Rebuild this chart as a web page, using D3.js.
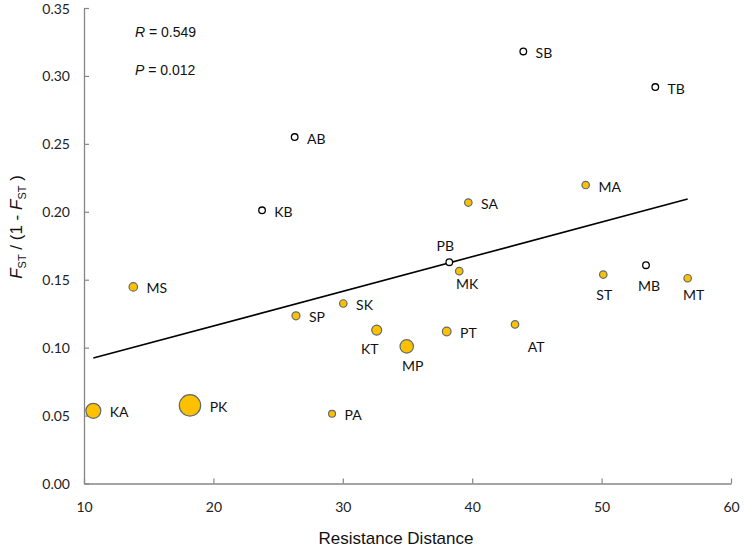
<!DOCTYPE html>
<html><head><meta charset="utf-8">
<script src="https://cdn.jsdelivr.net/npm/d3@7"></script>
<style>body{margin:0;background:#fff}svg{display:block}</style>
</head><body>
<svg id="chart" width="745" height="549"></svg>
<script>
// ---- data ----
const codes      = ["SB","TB","AB","KB","SA","MA","PB","MK","ST","MB","MT","MS","SK","SP","KT","MP","PT","AT","PA","KA","PK"];
const resistance = [43.95,54.15,26.28,23.76,39.70,48.77,38.23,39.00,50.13,53.43,56.65,13.81,30.04,26.38,32.62,34.94,38.03,43.31,29.17,10.72,18.19];
const fstRatio   = [0.318,0.2918,0.255,0.2011,0.2068,0.2197,0.1629,0.1563,0.1538,0.1607,0.1511,0.1447,0.1325,0.1234,0.1129,0.1009,0.1119,0.1171,0.0513,0.0535,0.0575];
const isOpen     = [true,true,true,true,false,false,true,false,false,true,false,false,false,false,false,false,false,false,false,false,false];
const weight     = [11,11,11,11,14,14,11,14,14,11,14,18,14,16,25,45,19,14,12,56,114];
const xTicks = [10,20,30,40,50,60];
const yTicks = [0,0.05,0.10,0.15,0.20,0.25,0.30,0.35];
const regIntercept = 0.06497, regSlope = 0.0025496;
const statR = "0.549", statP = "0.012";

// label placement (layout only)
const labelPlace = {
  PB:[-4,-17,"middle"], MK:[8,12,"middle"], ST:[1,20,"middle"], MB:[3,20,"middle"],
  MT:[6,16,"middle"], KT:[-7,18,"middle"], MP:[6,19,"middle"], AT:[21,22,"middle"]
};

const svg = d3.select("#chart");
const x = d3.scaleLinear().domain([10,60]).range([84,731]);
const y = d3.scaleLinear().domain([0,0.35]).range([483.5,8]);
const r = d3.scaleSqrt().domain([0,100]).range([0,10]);
const axisColor = "#868686";
const tickFont = "Lato, 'Open Sans', sans-serif";

// axes
const gx = svg.append("g").attr("transform","translate(0,483.5)")
  .call(d3.axisBottom(x).tickValues(xTicks).tickSizeInner(-5).tickSizeOuter(0).tickPadding(16).tickFormat(d3.format("d")));
const gy = svg.append("g").attr("transform","translate(84,0)")
  .call(d3.axisLeft(y).tickValues(yTicks).tickSizeInner(-5).tickSizeOuter(0).tickPadding(14).tickFormat(d3.format(".2f")));
[gx,gy].forEach(g=>{
  g.select(".domain").attr("stroke",axisColor).attr("stroke-width",1.3);
  g.selectAll(".tick line").attr("stroke",axisColor).attr("stroke-width",1.2);
  g.selectAll(".tick text").attr("fill","#222").style("font-family",tickFont).style("font-size","14px");
});
gx.selectAll(".tick text").attr("dy","0.9em");
gy.selectAll(".tick text").attr("dy","0.36em");

// regression line
const xMin = d3.min(resistance), xMax = d3.max(resistance);
svg.append("line")
  .attr("x1",x(xMin)).attr("y1",y(regIntercept+regSlope*xMin))
  .attr("x2",x(xMax)).attr("y2",y(regIntercept+regSlope*xMax))
  .attr("stroke","#000").attr("stroke-width",1.6);

// points
const pts = codes.map((c,i)=>({c, x:resistance[i], y:fstRatio[i], open:isOpen[i], w:weight[i]}));
svg.append("g").selectAll("circle").data(pts).join("circle")
  .attr("cx",d=>x(d.x)).attr("cy",d=>y(d.y))
  .attr("r",d=>d.open?3.3:r(d.w))
  .attr("fill",d=>d.open?"#fff":"#FFC000")
  .attr("stroke",d=>d.open?"#000":"#5f6b70")
  .attr("stroke-width",d=>d.open?1.3:1.2);

// labels
svg.append("g").selectAll("text").data(pts).join("text")
  .attr("x",d=>{const p=labelPlace[d.c]; return x(d.x)+(p?p[0]:(d.open?3.3:r(d.w))+9);})
  .attr("y",d=>{const p=labelPlace[d.c]; return y(d.y)+(p?p[1]:1);})
  .attr("text-anchor",d=>labelPlace[d.c]?labelPlace[d.c][2]:"start")
  .attr("dominant-baseline","central")
  .style("font-family",tickFont).style("font-size","14px").attr("fill","#111")
  .text(d=>d.c);

// stats annotation
const ann = svg.append("g").style("font-family","'Liberation Sans', Arial, sans-serif").style("font-size","14px").attr("fill","#111");
const t1 = ann.append("text").attr("x",135).attr("y",37);
t1.append("tspan").style("font-style","italic").text("R");
t1.append("tspan").text(" = "+statR);
const t2 = ann.append("text").attr("x",135).attr("y",75);
t2.append("tspan").style("font-style","italic").text("P");
t2.append("tspan").text(" = "+statP);

// axis titles
svg.append("text").attr("x",396).attr("y",544).attr("text-anchor","middle")
  .style("font-family","'Liberation Sans', Arial, sans-serif").style("font-size","17px").attr("fill","#111")
  .text("Resistance Distance");

const yt = svg.append("text").attr("transform","translate(22,227) rotate(-90)").attr("text-anchor","middle")
  .style("font-family","'Liberation Sans', Arial, sans-serif").style("font-size","17px").attr("fill","#111");
yt.append("tspan").style("font-style","italic").text("F");
yt.append("tspan").attr("dy",4).style("font-size","11px").text("ST");
yt.append("tspan").attr("dy",-4).text(" / (1 - ");
yt.append("tspan").style("font-style","italic").text("F");
yt.append("tspan").attr("dy",4).style("font-size","11px").text("ST");
yt.append("tspan").attr("dy",-4).text(" )");
</script>
</body></html>
